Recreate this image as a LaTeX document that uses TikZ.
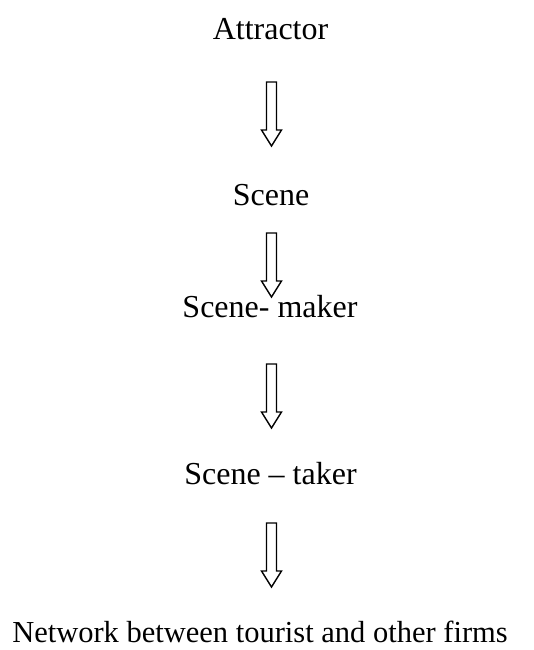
\documentclass[tikz,border=0pt]{standalone}
\usepackage{fontspec}
\setmainfont{Liberation Serif}
\tikzset{
  lbl/.style={anchor=base, inner sep=0pt, font=\fontsize{32}{38}\selectfont},
  blockarrow/.pic={\draw[line width=1.4pt, line join=miter]
     (-5,0) -- (5,0) -- (5,-48) -- (10,-48) -- (0,-64) -- (-10,-48) -- (-5,-48) -- cycle;}
}
\begin{document}
\begin{tikzpicture}[x=1pt,y=1pt]
\useasboundingbox (0,0) rectangle (533,650);
\node[lbl] (attr) at (270.5,610) {Attractor};
\node[lbl] (scene) at (271,444) {Scene};
\node[lbl] (maker) at (270,332) {Scene- maker};
\node[lbl] (taker) at (270.5,165) {Scene – taker};
\node[lbl, font=\fontsize{30.5}{36}\selectfont] (net) at (260,7.5) {Network between tourist and other firms};
\pic at (271.5,568) {blockarrow};
\pic at (271.5,417) {blockarrow};
\pic at (271.5,286) {blockarrow};
\pic at (271.5,127) {blockarrow};
\end{tikzpicture}
\end{document}
